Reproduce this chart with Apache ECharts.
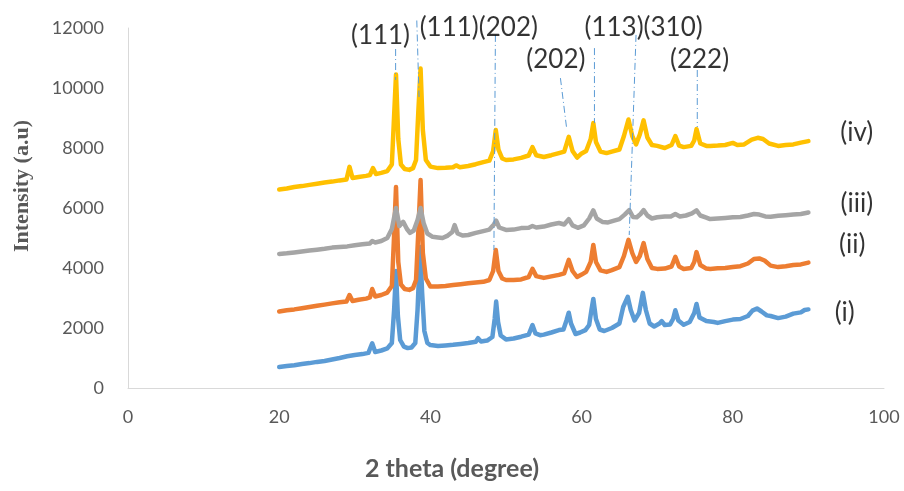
<!DOCTYPE html>
<html>
<head>
<meta charset="utf-8">
<script src="https://cdn.jsdelivr.net/npm/echarts@6/dist/echarts.min.js"></script>
<style>
  html, body { margin: 0; padding: 0; background: #ffffff; }
  #chart { width: 904px; height: 491px; }
</style>
</head>
<body>
<div id="chart"></div>
<script>
// XRD patterns, [2θ (degree), intensity (a.u)]
const patternI = [
  [20,700],[21,730],[22,760],[23,800],[24,830],[25,870],[26,900],[27,950],[28,1000],[29,1060],
  [30,1100],[31,1130],[31.8,1170],[32.3,1490],[32.7,1200],[33.5,1250],[34.3,1320],[34.9,1500],
  [35.2,2600],[35.45,3900],[35.7,2400],[36,1600],[36.5,1380],[37,1330],[37.5,1350],[38,1500],
  [38.3,2600],[38.65,4700],[38.9,3200],[39.2,1900],[39.6,1500],[40,1430],[41,1400],[42,1420],
  [43,1440],[44,1470],[45,1500],[46,1540],[46.3,1660],[46.7,1550],[47.5,1580],[48.2,1700],
  [48.5,2300],[48.7,2880],[48.95,2200],[49.3,1750],[50,1620],[51,1650],[52,1710],[53,1780],
  [53.5,2100],[53.9,1820],[54.5,1760],[55,1780],[56,1850],[57,1930],[57.6,1950],[58.0,2250],
  [58.3,2510],[58.6,2150],[59.2,1800],[59.8,1850],[60.5,1930],[61.0,2100],[61.3,2600],[61.55,2970],
  [61.9,2300],[62.4,1950],[63,1900],[64,2000],[65,2150],[65.5,2700],[66.1,3040],[66.5,2600],
  [67,2250],[67.6,2500],[68.1,3170],[68.5,2600],[69,2150],[69.6,2050],[70.3,2150],[70.6,2230],
  [71,2100],[71.7,2120],[72.1,2300],[72.4,2590],[72.8,2250],[73.5,2110],[74.3,2200],[74.9,2500],
  [75.2,2800],[75.6,2350],[76.5,2230],[77.5,2200],[78,2170],[79,2230],[80,2280],[81,2300],
  [82,2400],[82.6,2580],[83.2,2650],[83.8,2550],[84.5,2420],[85,2400],[86,2330],[87,2380],
  [88,2480],[89,2520],[89.5,2600],[90,2620]
];
const patternII = [
  [20,2550],[21,2590],[22,2620],[23,2660],[24,2700],[25,2740],[26,2780],[27,2820],[28,2860],
  [28.9,2880],[29.3,3100],[29.7,2900],[30.5,2940],[31.5,2980],[32.0,3020],[32.3,3300],[32.7,3050],
  [33.5,3100],[34.3,3180],[34.9,3400],[35.15,4800],[35.45,6700],[35.75,4200],[36.1,3450],[36.6,3300],
  [37.2,3270],[37.7,3330],[38.1,3600],[38.4,5200],[38.7,6930],[39.0,4500],[39.4,3650],[40,3380],
  [41,3380],[42,3400],[43,3430],[44,3460],[45,3490],[46,3520],[47,3540],[47.8,3600],[48.3,3900],
  [48.65,4600],[49.0,3900],[49.5,3650],[50,3600],[51,3600],[52,3620],[53,3700],[53.5,3970],
  [54,3730],[55,3670],[56,3720],[57,3770],[57.7,3820],[58.3,4270],[58.8,3900],[59.4,3700],
  [60,3780],[60.6,3870],[61.2,4200],[61.55,4770],[61.9,4200],[62.5,3920],[63.3,3870],[64,3930],
  [65,4030],[65.6,4400],[66.2,4940],[66.7,4500],[67.2,4200],[67.7,4400],[68.2,4830],[68.7,4300],
  [69.3,4000],[70,3970],[71,3980],[71.9,4050],[72.4,4370],[72.9,4050],[73.5,3970],[74.5,4000],
  [74.9,4200],[75.2,4530],[75.7,4100],[76.5,3980],[77,3970],[78,3990],[79,4000],[80,4030],
  [81,4060],[82,4150],[82.8,4300],[83.5,4320],[84.2,4250],[85,4080],[86,4030],[87,4060],
  [88,4100],[89,4120],[90,4180]
];
const patternIII = [
  [20,4470],[21,4490],[22,4520],[23,4550],[24,4580],[25,4610],[26,4640],[27,4680],[28,4700],
  [29,4720],[30,4760],[31,4790],[32,4820],[32.3,4900],[32.7,4850],[33.5,4900],[34.3,5000],
  [34.9,5300],[35.45,6000],[35.9,5400],[36.4,5540],[36.9,5300],[37.3,5170],[37.8,5250],[38.3,5600],
  [38.7,6000],[39.1,5500],[39.6,5150],[40.3,5040],[41,5020],[41.6,5000],[42.3,5080],[42.9,5200],
  [43.2,5430],[43.6,5150],[44.3,5080],[45,5100],[46,5170],[47,5230],[47.8,5280],[48.4,5450],
  [48.7,5580],[49.1,5350],[50,5270],[51,5280],[52,5330],[53,5340],[53.5,5400],[54,5350],
  [55,5380],[56,5450],[57,5500],[57.7,5450],[58.3,5630],[58.8,5420],[59.5,5340],[60.3,5420],
  [61,5650],[61.55,5920],[62,5650],[62.8,5530],[63.5,5520],[64.3,5580],[65,5630],[65.7,5780],
  [66.3,5930],[66.8,5700],[67.3,5690],[67.8,5800],[68.2,5930],[68.7,5750],[69.3,5650],[70,5690],
  [71,5720],[71.8,5720],[72.4,5800],[73,5720],[73.8,5750],[74.6,5820],[75.2,5920],[75.7,5750],
  [76.5,5680],[77,5630],[78,5650],[79,5670],[80,5690],[81,5700],[82,5750],[82.8,5800],
  [83.5,5780],[84.3,5720],[85,5710],[86,5740],[87,5760],[88,5780],[89,5800],[90,5850]
];
const patternIV = [
  [20,6620],[21,6650],[22,6700],[23,6730],[24,6770],[25,6810],[26,6850],[27,6880],[28,6920],
  [28.9,6950],[29.3,7370],[29.7,7000],[30.5,7030],[31.5,7070],[32.0,7100],[32.4,7330],[32.8,7130],
  [33.5,7170],[34.3,7230],[34.9,7450],[35.15,8800],[35.45,10450],[35.75,8300],[36.1,7450],[36.6,7300],
  [37.2,7270],[37.7,7330],[38.1,7600],[38.4,9200],[38.7,10650],[39.0,8600],[39.4,7600],[40,7380],
  [41,7330],[42,7340],[43,7360],[43.4,7420],[43.9,7360],[45,7400],[46,7460],[47,7530],[47.8,7580],
  [48.3,7900],[48.65,8600],[49.0,7950],[49.5,7650],[50,7600],[51,7620],[52,7670],[53,7750],
  [53.5,8030],[54,7760],[55,7700],[56,7760],[57,7830],[57.7,7880],[58.3,8370],[58.8,7900],
  [59.4,7680],[60,7820],[60.6,7900],[61.2,8300],[61.55,8830],[61.9,8200],[62.5,7880],[63.3,7830],
  [64,7880],[65,7950],[65.6,8400],[66.2,8950],[66.7,8400],[67.2,8120],[67.7,8450],[68.2,8920],
  [68.7,8350],[69.3,8100],[70,8070],[71,8000],[71.9,8100],[72.4,8400],[72.9,8080],[73.5,8030],
  [74.5,8070],[74.9,8250],[75.2,8630],[75.7,8150],[76.5,8070],[77,8070],[78,8080],[79,8100],
  [80,8170],[80.6,8100],[81.5,8120],[82.5,8280],[83.3,8340],[84,8300],[84.8,8150],[86,8070],
  [87,8100],[88,8120],[89,8180],[90,8230]
];

const seriesNames = ['(i)', '(ii)', '(iii)', '(iv)'];
const seriesColors = ['#5b9bd5', '#ed7d31', '#a5a5a5', '#ffc000'];
const patterns = [patternI, patternII, patternIII, patternIV];

// curve tags at the right end of each pattern
const curveTags = [
  ['(i)', 94.8, 2500],
  ['(ii)', 95.8, 4770],
  ['(iii)', 96.4, 6130],
  ['(iv)', 96.4, 8500]
];

// Miller-index labels above the peaks
const peakLabels = [
  ['(111)', 33.4, 11730],
  ['(111)(202)', 46.4, 12000],
  ['(202)', 56.6, 10930],
  ['(113)(310)', 68.2, 12000],
  ['(222)', 75.6, 10930]
];

// leader lines from label to peak: [[2θ, I] start, [2θ, I] end]
const leaders = [
  [[35.4, 11300], [35.4, 10270]],
  [[38.2, 12250], [38.5, 9700]],
  [[48.6, 11770], [48.4, 4600]],
  [[57.2, 10330], [58.0, 8700]],
  [[61.7, 11330], [61.7, 8830]],
  [[67.2, 11770], [66.3, 5100]],
  [[75.3, 10600], [75.3, 8700]]
];

const xTicks = { min: 0, max: 100, step: 20 };
const yTicks = { min: 0, max: 12000, step: 2000 };

const chart = echarts.init(document.getElementById('chart'), null, { renderer: 'canvas' });

const lineSeries = patterns.map((d, i) => ({
  name: seriesNames[i],
  type: 'line',
  data: d,
  showSymbol: false,
  symbol: 'none',
  smooth: false,
  lineStyle: { color: seriesColors[i], width: 4.5, cap: 'round', join: 'round' },
  z: 2 + i,
  silent: true
}));

const leaderSeries = leaders.map(seg => ({
  type: 'line',
  data: seg,
  symbol: 'none',
  clip: false,
  silent: true,
  lineStyle: { color: '#5b9bd5', width: 1, type: [7, 3, 1, 3] },
  z: 10
}));

const textFont = 'Lato, "Open Sans", sans-serif';

const labelStyle = {
  show: true, position: 'inside', formatter: '{b}',
  color: '#000000', fontSize: 26, fontFamily: textFont
};

const peakLabelSeries = {
  type: 'scatter',
  symbolSize: 0,
  silent: true,
  clip: false,
  data: peakLabels.map(p => ({ name: p[0], value: [p[1], p[2]] })),
  label: labelStyle,
  z: 12
};

const tagSeries = {
  type: 'scatter',
  symbolSize: 0,
  silent: true,
  clip: false,
  data: curveTags.map(p => ({ name: p[0], value: [p[1], p[2]] })),
  label: labelStyle,
  z: 12
};

chart.setOption({
  animation: false,
  backgroundColor: '#ffffff',
  grid: { left: 128, right: 20, top: 28, bottom: 103, containLabel: false },
  xAxis: {
    type: 'value',
    min: xTicks.min, max: xTicks.max, interval: xTicks.step,
    axisLine: { show: true, lineStyle: { color: '#d9d9d9', width: 1 } },
    axisTick: { show: false },
    splitLine: { show: false },
    axisLabel: { color: '#595959', fontSize: 18, fontFamily: textFont, margin: 20 }
  },
  yAxis: {
    type: 'value',
    min: yTicks.min, max: yTicks.max, interval: yTicks.step,
    axisLine: { show: true, lineStyle: { color: '#d9d9d9', width: 1 } },
    axisTick: { show: false },
    splitLine: { show: false },
    axisLabel: {
      color: '#595959', fontSize: 18, fontFamily: textFont, margin: 24,
      formatter: v => String(v)
    }
  },
  graphic: [
    {
      type: 'text',
      left: 'center',
      top: 456,
      style: {
        text: '2 theta (degree)',
        fill: '#595959',
        font: 'bold 25px ' + textFont
      },
      x: 8
    },
    {
      type: 'text',
      x: 22,
      y: 186,
      rotation: Math.PI / 2,
      style: {
        text: 'Intensity (a.u)',
        fill: '#595959',
        font: 'bold 22px "Liberation Serif", "Times New Roman", serif',
        align: 'center',
        verticalAlign: 'middle'
      }
    }
  ],
  series: [...lineSeries, ...leaderSeries, peakLabelSeries, tagSeries]
});
</script>
</body>
</html>
